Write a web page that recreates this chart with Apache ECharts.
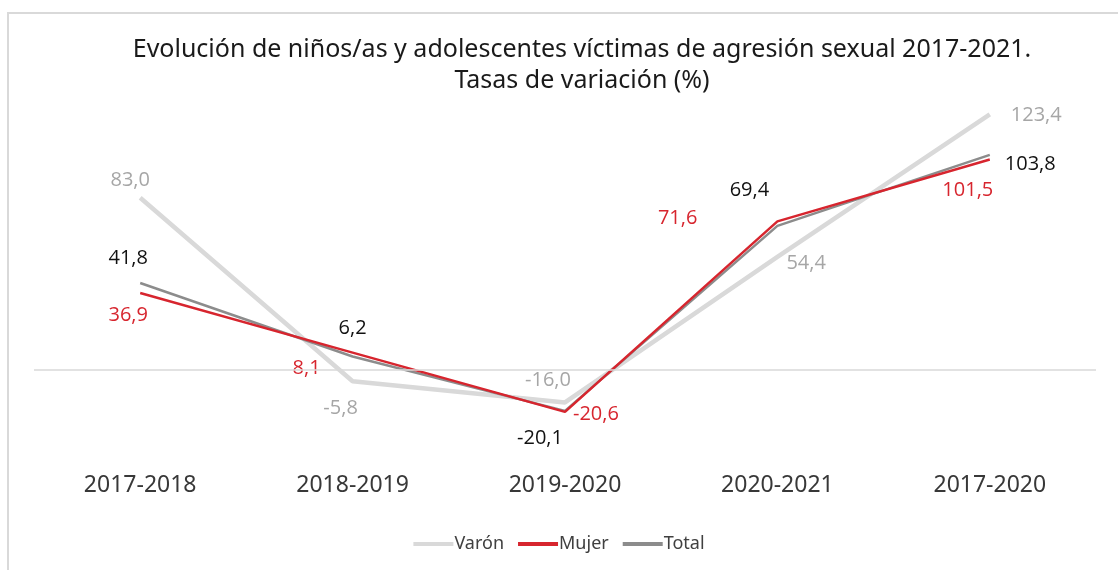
<!DOCTYPE html>
<html>
<head>
<meta charset="utf-8">
<script src="https://cdn.jsdelivr.net/npm/echarts@6/dist/echarts.min.js"></script>
<style>
  html, body { margin: 0; padding: 0; background: #fff; }
  #chart { width: 1118px; height: 570px; }
</style>
</head>
<body>
<div id="chart"></div>
<script>
// periodos y tasas de variación (%)
const periodos = ['2017-2018', '2018-2019', '2019-2020', '2020-2021', '2017-2020'];
const varon = [83.0, -5.8, -16.0, 54.4, 123.4];
const mujer = [36.9, 8.1, -20.6, 71.6, 101.5];
const total = [41.8, 6.2, -20.1, 69.4, 103.8];

const fmt = v => v.toFixed(1).replace('.', ',');

// colocación de etiquetas (a mano, como en el original)
const posVaron = [['top', [-10, -3]], ['bottom', [-12, 12]], ['top', [-17, -7]], ['right', [4, 6]], ['right', [16, 1]]];
const posMujer = [['bottom', [-12, 7]], ['left', [-27, 16]], ['right', [3, 2]], ['left', [-75, -3]], ['bottom', [-22, 16]]];
const posTotal = [['top', [-12, -10]], ['top', [0, -13]], ['bottom', [-25, 12]], ['top', [-28, -21]], ['right', [10, 9]]];

function items(vals, pos) {
  return vals.map((v, i) => ({ value: v, label: { position: pos[i][0], offset: pos[i][1] } }));
}

const lblFont = { fontFamily: 'Open Sans', fontSize: 20 };

const c = echarts.init(document.getElementById('chart'));
c.setOption({
  animation: false,
  backgroundColor: '#fff',
  title: {
    text: 'Evolución de niños/as y adolescentes víctimas de agresión sexual 2017-2021.\nTasas de variación (%)',
    left: 577, textAlign: 'center', top: 29,
    textStyle: { fontFamily: 'Noto Sans', fontSize: 25, fontWeight: 'normal', color: '#1a1a1a', lineHeight: 31 }
  },
  graphic: [{
    type: 'rect', shape: { x: 8, y: 13, width: 1200, height: 600 },
    style: { fill: 'none', stroke: '#d9d9d9', lineWidth: 2 }, silent: true
  }],
  legend: {
    data: ['Varón', 'Mujer', 'Total'], bottom: 12, left: 'center', icon: 'rect',
    itemWidth: 40, itemHeight: 4, itemGap: 14,
    textStyle: { fontFamily: 'Noto Sans', fontSize: 18, color: '#404040', padding: [0, 0, 0, -4] }
  },
  grid: { left: 34, right: 22, top: 80, bottom: 118 },
  xAxis: {
    type: 'category', data: periodos, boundaryGap: true,
    axisLine: { show: false }, axisTick: { show: false },
    axisLabel: { margin: 22, fontFamily: 'Noto Sans', fontSize: 23, color: '#383838' }
  },
  yAxis: {
    type: 'value', min: -40, max: 140, interval: 20,
    axisLabel: { show: false }, axisLine: { show: false }, axisTick: { show: false },
    splitLine: { show: false }
  },
  series: [
    {
      name: 'Varón', type: 'line', data: items(varon, posVaron), symbol: 'circle', symbolSize: 0,
      lineStyle: { color: '#d9d9d9', width: 4.5 }, itemStyle: { color: '#d9d9d9' },
      label: { show: true, formatter: p => fmt(p.value), color: '#a6a6a6', ...lblFont },
      markLine: {
        silent: true, symbol: 'none', label: { show: false },
        lineStyle: { color: '#d9d9d9', width: 1.5, type: 'solid' },
        data: [{ yAxis: 0 }]
      }
    },
    {
      name: 'Total', type: 'line', data: items(total, posTotal), symbol: 'circle', symbolSize: 0,
      lineStyle: { color: '#8c8c8c', width: 2.5 }, itemStyle: { color: '#8c8c8c' },
      label: { show: true, formatter: p => fmt(p.value), color: '#111', ...lblFont }
    },
    {
      name: 'Mujer', type: 'line', data: items(mujer, posMujer), symbol: 'circle', symbolSize: 0,
      lineStyle: { color: '#d7252e', width: 2.5 }, itemStyle: { color: '#d7252e' },
      label: { show: true, formatter: p => fmt(p.value), color: '#d7252e', ...lblFont }
    }
  ]
});
</script>
</body>
</html>
